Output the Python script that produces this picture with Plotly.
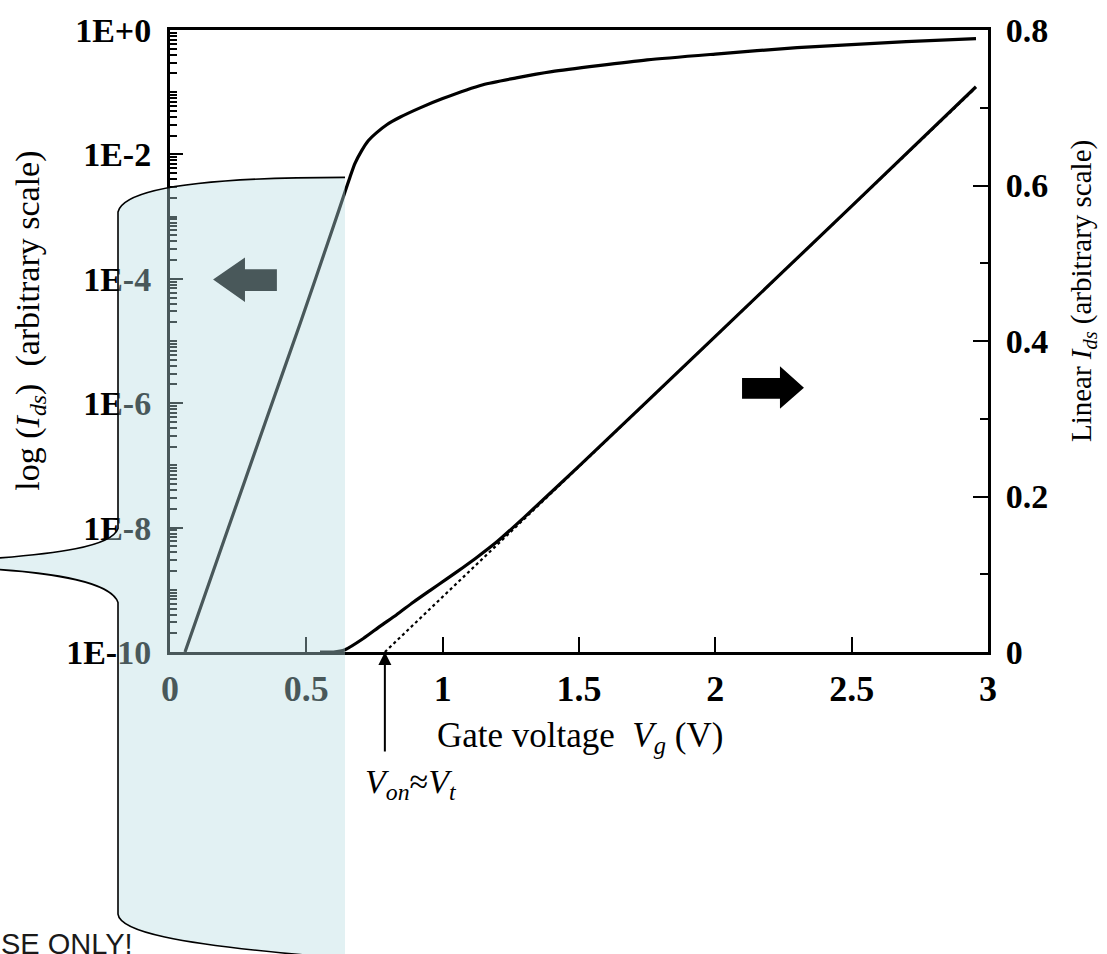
import plotly.graph_objects as go

# Drain current vs gate voltage, read on the logarithmic (left) axis
vg_log = [0.055, 0.20, 0.35, 0.477, 0.60, 0.642, 0.660, 0.678, 0.703, 0.727,
          0.758, 0.795, 0.843, 0.917, 1.00, 1.148, 1.27, 1.40, 1.75, 2.00,
          2.30, 2.70, 2.956]
ids_log = [1.0e-10, 6.6e-9, 5.0e-7, 1.9e-5, 7.1e-4, 2.5e-3, 4.3e-3, 7.1e-3,
           1.15e-2, 1.66e-2, 2.24e-2, 3.0e-2, 3.95e-2, 5.6e-2, 7.9e-2, 1.32e-1,
           1.70e-1, 2.14e-1, 3.3e-1, 4.1e-1, 5.2e-1, 6.5e-1, 7.25e-1]

# The same sweep read on the linear (right) axis
vg_lin = [0.55, 0.60, 0.642, 0.709, 0.770, 0.831, 0.892, 0.953, 1.015, 1.076,
          1.125, 1.20, 1.30, 1.50, 2.00, 2.50, 2.956]
ids_lin = [0.0, 0.0, 0.003, 0.0174, 0.033, 0.048, 0.064, 0.079, 0.094, 0.109,
           0.1215, 0.142, 0.1735, 0.239, 0.406, 0.5735, 0.727]

# Straight-line extrapolation of the linear current down to V_on
vg_extrap = [0.788, 2.95]
ids_extrap = [0.0, 0.724]
v_on = 0.788

# Tick positions and labels
x_ticks = [0, 0.5, 1, 1.5, 2, 2.5, 3]
x_tick_text = ["0", "0.5", "1", "1.5", "2", "2.5", "3"]
log_ticks = [1e-10, 1e-8, 1e-6, 1e-4, 1e-2, 1e0]
log_tick_text = ["1E-10", "1E-8", "1E-6", "1E-4", "1E-2", "1E+0"]
lin_ticks = [0, 0.2, 0.4, 0.6, 0.8]
lin_tick_text = ["0", "0.2", "0.4", "0.6", "0.8"]

SERIF = "Liberation Serif, Times New Roman, serif"
SANS = "Liberation Sans, Arial, sans-serif"

# plot-area edges in pixels
L, R, T, B = 170, 988, 23, 652


def px(x):
    return (x - L) / (R - L)


def py(y):
    return (B - y) / (B - T)


def path(cmds):
    """Build an SVG path in paper units from pixel-space commands."""
    out = []
    for c in cmds:
        if isinstance(c, str):
            out.append(c)
        else:
            out.append(f"{px(c[0]):.5f},{py(c[1]):.5f}")
    return " ".join(out)


# minor log ticks: 2..9 in every decade, plus the odd decades
minor_log = []
for d in range(-10, 0):
    for k in range(1, 10):
        if k == 1 and d % 2 == 0:
            continue
        minor_log.append(k * 10.0 ** d)

fig = go.Figure()

fig.add_trace(go.Scatter(
    x=vg_extrap, y=ids_extrap, yaxis="y2", mode="lines",
    line=dict(color="black", width=2.2, dash="dot"),
    hoverinfo="skip", showlegend=False))
fig.add_trace(go.Scatter(
    x=vg_lin, y=ids_lin, yaxis="y2", mode="lines",
    line=dict(color="black", width=3.2, shape="spline", smoothing=0.6),
    showlegend=False))
fig.add_trace(go.Scatter(
    x=vg_log, y=ids_log, mode="lines",
    line=dict(color="black", width=3.2, shape="spline", smoothing=0.6),
    showlegend=False))

# block arrows pointing to each curve's axis
right_arrow = ("M 2.098,0.3523 L 2.237,0.3523 L 2.237,0.3676 L 2.325,0.340 "
               "L 2.237,0.3129 L 2.237,0.3256 L 2.098,0.3256 Z")
left_arrow = ("M 0.392,0.4922 L 0.275,0.4922 L 0.275,0.5075 L 0.158,0.479 "
              "L 0.275,0.4502 L 0.275,0.4642 L 0.392,0.4642 Z")

callout_fill = path([
    "M", (345, 172), "C", (240, 172), (125, 178), (118, 207),
    "L", (118, 527), "C", (112, 545), (60, 553), (-30, 559),
    "L", (-30, 567), "C", (60, 571), (112, 583), (118, 602),
    "L", (118, 917), "C", (120, 935), (180, 947), (300, 958),
    "L", (345, 962), "Z"])
callout_edge = path([
    "M", (345, 172), "C", (240, 172), (125, 178), (118, 207),
    "L", (118, 527), "C", (112, 545), (60, 553), (-30, 559),
    "M", (-30, 567), "C", (60, 571), (112, 583), (118, 602),
    "L", (118, 917), "C", (120, 935), (180, 947), (300, 958),
    "L", (345, 962)])

shapes = [
    dict(type="path", path=right_arrow, xref="x", yref="y2",
         fillcolor="black", line=dict(width=0), layer="above"),
    dict(type="path", path=left_arrow, xref="x", yref="y2",
         fillcolor="black", line=dict(width=0), layer="above"),
    dict(type="path", path=callout_fill, xref="paper", yref="paper",
         fillcolor="rgba(183,220,225,0.4)", line=dict(width=0), layer="above"),
    dict(type="path", path=callout_edge, xref="paper", yref="paper",
         fillcolor="rgba(0,0,0,0)", line=dict(color="black", width=1.6),
         layer="above"),
]

annotations = [
    dict(text="Gate voltage  <i>V<sub>g</sub></i> (V)", x=px(580), y=py(738),
         xref="paper", yref="paper", xanchor="center", yanchor="middle",
         showarrow=False, font=dict(family=SERIF, size=35, color="black")),
    dict(text="log (<i>I<sub>ds</sub></i>)  (arbitrary scale)", textangle=-90,
         x=px(30), y=py(317), xref="paper", yref="paper",
         xanchor="center", yanchor="middle", showarrow=False,
         font=dict(family=SERIF, size=34, color="black")),
    dict(text="Linear <i>I<sub>ds</sub></i> (arbitrary scale)", textangle=-90,
         x=px(1083), y=py(287), xref="paper", yref="paper",
         xanchor="center", yanchor="middle", showarrow=False,
         font=dict(family=SERIF, size=29, color="black")),
    dict(text="", x=v_on, y=0, xref="x", yref="y2", ax=0, ay=101,
         showarrow=True, arrowhead=2, arrowsize=1.3, arrowwidth=2,
         arrowcolor="black", standoff=0),
    dict(text="<i>V<sub>on</sub></i>≈<i>V<sub>t</sub></i>", x=px(411), y=py(785),
         xref="paper", yref="paper", xanchor="center", yanchor="middle",
         showarrow=False, font=dict(family=SERIF, size=34, color="black")),
    dict(text="USE ONLY!", x=px(135), y=py(929), xref="paper", yref="paper",
         xanchor="right", yanchor="top", showarrow=False,
         font=dict(family=SANS, size=29, color="#1a1a1a")),
]

fig.update_layout(
    width=1107, height=954,
    margin=dict(l=L, r=1107 - R, t=T, b=954 - B),
    paper_bgcolor="white", plot_bgcolor="white",
    showlegend=False,
    xaxis=dict(
        range=[0, 3], tickmode="array", tickvals=x_ticks, ticktext=x_tick_text,
        ticks="inside", ticklen=15, tickwidth=2, tickcolor="black",
        showline=True, linecolor="black", linewidth=3, mirror=True,
        showgrid=False, zeroline=False, ticklabelstandoff=3,
        tickfont=dict(family=SERIF, size=36, color="black", weight="bold")),
    yaxis=dict(
        type="log", range=[-10, 0], tickmode="array", tickvals=log_ticks,
        ticktext=log_tick_text, ticks="inside", ticklen=13, tickwidth=2,
        tickcolor="black", showline=True, linecolor="black", linewidth=3,
        showgrid=False, zeroline=False, ticklabelstandoff=9,
        minor=dict(tickmode="array", tickvals=minor_log, ticks="inside",
                   ticklen=7, tickwidth=1.5, tickcolor="black", showgrid=False),
        tickfont=dict(family=SERIF, size=34, color="black", weight="bold")),
    yaxis2=dict(
        overlaying="y", side="right", range=[0, 0.8], tickmode="array",
        tickvals=lin_ticks, ticktext=lin_tick_text, ticks="inside",
        ticklen=15, tickwidth=2, tickcolor="black", showline=True,
        linecolor="black", linewidth=3, showgrid=False, zeroline=False,
        ticklabelstandoff=8,
        minor=dict(dtick=0.1, ticks="inside", ticklen=8, tickwidth=2,
                   tickcolor="black", showgrid=False),
        tickfont=dict(family=SERIF, size=34, color="black", weight="bold")),
    shapes=shapes,
    annotations=annotations,
)

fig.write_html("out.html")
